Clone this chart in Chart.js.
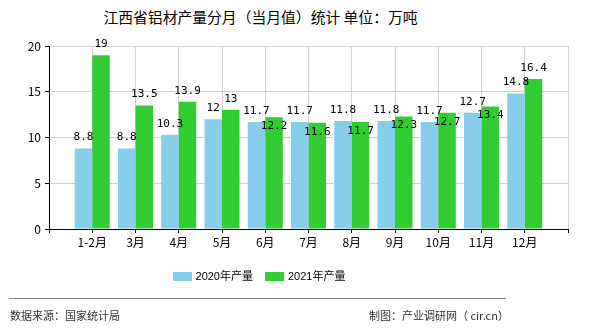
<!DOCTYPE html>
<html>
<head>
<meta charset="utf-8">
<script src="https://cdn.jsdelivr.net/npm/chart.js@4.4.0/dist/chart.umd.min.js"></script>
<style>
  body { margin: 0; width: 590px; height: 330px; background: #fff; position: relative; overflow: hidden;
         font-family: "Noto Sans CJK SC", sans-serif; }
  #title { position: absolute; left: 0; width: 521px; top: 6px; text-align: center; font-size: 14.8px; color: #000; }
  #chart { position: absolute; left: 0; top: 0; }
  #legend { position: absolute; left: 0; width: 518px; top: 267px; text-align: center; font-size: 11px;
            font-family: "Liberation Sans", "Noto Sans CJK SC", sans-serif; color: #000; }
  #legend .item { display: inline-block; margin: 0 6px; }
  #legend .box { display: inline-block; width: 19px; height: 9px; margin-right: 4px; vertical-align: -1px; }
  #rule { position: absolute; left: 9px; width: 497px; top: 298px; border-top: 1px solid #888; }
  .foot { position: absolute; top: 307px; font-size: 11px; color: #333; }
</style>
</head>
<body>
<div id="title">江西省铝材产量分月（当月值）统计 单位：万吨</div>
<canvas id="chart" width="590" height="330"></canvas>
<div id="legend"></div>
<div id="rule"></div>
<div class="foot" style="left:10px">数据来源：国家统计局</div>
<div class="foot" style="left:369px">制图：产业调研网（ cir.cn）</div>
<script>
var months = ['1-2月', '3月', '4月', '5月', '6月', '7月', '8月', '9月', '10月', '11月', '12月'];
var output2020 = [8.8, 8.8, 10.3, 12, 11.7, 11.7, 11.8, 11.8, 11.7, 12.7, 14.8];
var output2021 = [19, 13.5, 13.9, 13, 12.2, 11.6, 11.7, 12.3, 12.7, 13.4, 16.4];
var seriesNames = ['2020年产量', '2021年产量'];
var seriesColors = ['#87CEEB', '#32CD32'];

// empty slot at each end, like the original axis
var labels = [''].concat(months, ['']);
function pad(arr) { return [null].concat(arr, [null]); }

var labelFont = '11px "DejaVu Sans Mono", monospace';

// value labels above bars; a 2021 label that would hit the 2020 one drops inside its bar
var valueLabels = {
  id: 'valueLabels',
  afterDatasetsDraw: function (chart) {
    var ctx = chart.ctx;
    ctx.save();
    ctx.font = labelFont;
    ctx.fillStyle = '#000';
    ctx.textAlign = 'center';
    ctx.textBaseline = 'middle';
    var m0 = chart.getDatasetMeta(0).data;
    var m1 = chart.getDatasetMeta(1).data;
    var d0 = chart.data.datasets[0].data;
    var d1 = chart.data.datasets[1].data;
    for (var i = 0; i < d0.length; i++) {
      if (d0[i] == null) continue;
      var t0 = String(d0[i]), t1 = String(d1[i]);
      var x0 = m0[i].x, y0 = m0[i].y - 11;
      var x1 = m1[i].x, y1 = m1[i].y - 11;
      var w0 = ctx.measureText(t0).width, w1 = ctx.measureText(t1).width;
      var hOverlap = (x0 + w0 / 2) > (x1 - w1 / 2);
      if (hOverlap && Math.abs(y1 - y0) < 13) {
        y1 = m1[i].y + 9;
      }
      ctx.fillText(t0, x0, y0);
      ctx.fillText(t1, x1, y1);
    }
    ctx.restore();
  }
};

var ctx = document.getElementById('chart').getContext('2d');
new Chart(ctx, {
  type: 'bar',
  data: {
    labels: labels,
    datasets: [
      { label: seriesNames[0], data: pad(output2020), backgroundColor: seriesColors[0] },
      { label: seriesNames[1], data: pad(output2021), backgroundColor: seriesColors[1] }
    ]
  },
  options: {
    responsive: false,
    animation: false,
    devicePixelRatio: 1,
    barPercentage: 1,
    categoryPercentage: 0.81,
    layout: { padding: { top: 46, right: 22, left: 0, bottom: 0 } },
    plugins: { legend: { display: false }, tooltip: { enabled: false }, title: { display: false } },
    scales: {
      x: {
        offset: false,
        grid: { color: '#d0d0d0', tickColor: '#000', tickLength: 4, offset: false },
        border: { color: '#000' },
        ticks: { autoSkip: false, maxRotation: 0, color: '#000', padding: 2,
                 font: { family: '"Noto Sans CJK SC"', size: 12 } },
        afterFit: function (s) { s.height = 101; }
      },
      y: {
        min: 0, max: 20,
        grid: { color: '#d0d0d0', tickColor: '#000', tickLength: 4 },
        border: { color: '#000' },
        ticks: { stepSize: 5, color: '#000', padding: 4,
                 font: { family: '"Noto Sans CJK SC"', size: 12 } },
        afterFit: function (s) { s.width = 49; }
      }
    }
  },
  plugins: [valueLabels]
});

var legend = document.getElementById('legend');
seriesNames.forEach(function (name, i) {
  var item = document.createElement('span');
  item.className = 'item';
  item.innerHTML = '<span class="box" style="background:' + seriesColors[i] + '"></span>' + name;
  legend.appendChild(item);
});
</script>
</body>
</html>
